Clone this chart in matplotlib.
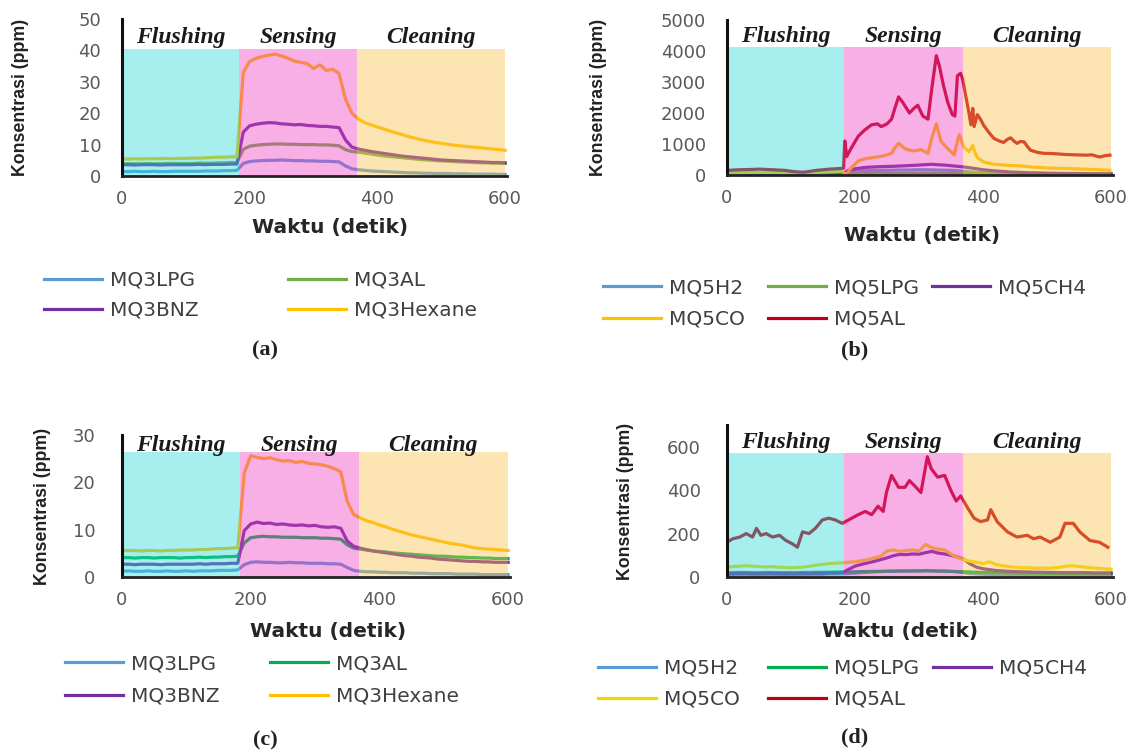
import matplotlib
matplotlib.use("Agg")
import matplotlib.pyplot as plt

W, H = 1145, 755

# time grid (detik) used by the smoother series
t10 = list(range(0, 601, 10))

# ---- panel (a) : MQ3, ppm
a_lpg = [1.4, 1.4, 1.5, 1.4, 1.4, 1.5, 1.4, 1.4, 1.5, 1.5,
         1.5, 1.5, 1.5, 1.6, 1.6, 1.6, 1.7, 1.7, 1.8, 4.0,
         4.6, 4.8, 4.9, 5.0, 5.0, 5.1, 5.0, 4.9, 4.9, 4.8,
         4.8, 4.7, 4.7, 4.6, 4.5, 3.2, 2.3, 2.0, 1.8, 1.6,
         1.5, 1.4, 1.3, 1.2, 1.1, 1.0, 1.0, 0.9, 0.9, 0.8,
         0.8, 0.8, 0.7, 0.7, 0.7, 0.6, 0.6, 0.6, 0.6, 0.5, 0.5]
a_al = [3.9, 3.9, 3.9, 3.9, 4.0, 3.9, 3.9, 4.0, 4.0, 4.0,
        4.0, 4.0, 4.1, 4.1, 4.1, 4.2, 4.2, 4.3, 4.3, 8.5,
        9.5, 9.8, 10.0, 10.1, 10.2, 10.2, 10.1, 10.1, 10.0, 10.0,
        10.0, 9.9, 9.9, 9.8, 9.6, 8.4, 7.8, 7.6, 7.3, 7.0,
        6.7, 6.4, 6.2, 6.0, 5.8, 5.6, 5.4, 5.2, 5.1, 4.9,
        4.8, 4.7, 4.6, 4.5, 4.4, 4.3, 4.2, 4.2, 4.1, 4.1, 4.0]
a_bnz = [3.6, 3.6, 3.5, 3.6, 3.6, 3.6, 3.5, 3.6, 3.6, 3.6,
         3.6, 3.6, 3.7, 3.6, 3.7, 3.7, 3.7, 3.8, 3.8, 14.0,
         16.0, 16.5, 16.8, 17.0, 16.9, 16.6, 16.5, 16.3, 16.4, 16.1,
         16.0, 15.8, 15.8, 15.6, 15.4, 11.5, 9.2, 8.6, 8.2, 7.8,
         7.5, 7.2, 6.9, 6.6, 6.3, 6.1, 5.9, 5.7, 5.5, 5.3,
         5.1, 5.0, 4.9, 4.8, 4.7, 4.6, 4.5, 4.4, 4.3, 4.3, 4.2]
a_hex = [5.4, 5.4, 5.5, 5.4, 5.5, 5.5, 5.5, 5.6, 5.5, 5.6,
         5.6, 5.7, 5.7, 5.8, 5.9, 6.0, 6.0, 6.1, 6.1, 33.0,
         36.5, 37.5, 38.0, 38.5, 38.8, 38.2, 37.5, 36.6, 36.2, 35.8,
         34.2, 35.4, 33.6, 34.0, 32.6, 24.5, 20.0, 18.2, 17.0, 16.3,
         15.6, 15.0, 14.3, 13.7, 13.1, 12.5, 12.0, 11.5, 11.1, 10.7,
         10.4, 10.1, 9.8, 9.6, 9.4, 9.2, 9.0, 8.8, 8.6, 8.4, 8.2]

# ---- panel (b) : MQ5, ppm
b_h2 = [20, 20, 20, 22, 22, 20, 20, 20, 22, 22,
        22, 22, 24, 24, 24, 25, 25, 26, 26, 90,
        120, 135, 140, 145, 150, 150, 155, 160, 160, 165,
        170, 170, 165, 160, 155, 150, 140, 120, 100, 85,
        75, 68, 62, 56, 52, 48, 45, 42, 40, 38,
        36, 34, 32, 31, 30, 29, 28, 27, 26, 25, 25]
b_lpg = [60, 62, 64, 66, 66, 64, 62, 60, 58, 56,
         54, 52, 52, 54, 56, 60, 64, 68, 70, 40,
         40, 42, 44, 46, 48, 50, 52, 54, 56, 58,
         60, 60, 60, 58, 56, 54, 52, 50, 48, 46,
         44, 42, 40, 38, 36, 35, 34, 33, 32, 31,
         30, 30, 29, 29, 28, 28, 27, 27, 26, 26, 26]
b_ch4 = [30, 30, 32, 32, 30, 30, 32, 32, 30, 30,
         30, 30, 32, 32, 34, 34, 36, 36, 38, 150,
         200, 230, 250, 260, 270, 275, 280, 290, 300, 310,
         320, 335, 345, 330, 320, 300, 280, 260, 230, 200,
         170, 150, 130, 115, 100, 90, 82, 75, 70, 65,
         60, 57, 54, 51, 48, 46, 44, 42, 40, 38, 36]
b_co_t = [0, 30, 60, 90, 120, 150, 180, 186, 195, 205, 215, 231, 245, 257,
          263, 268, 278, 285, 293, 303, 314, 320, 327, 334, 340, 345, 355,
          360, 363, 370, 378, 384, 388, 391, 401, 415, 427, 440, 453, 466,
          479, 490, 505, 530, 556, 580, 598]
b_co = [60, 70, 80, 70, 60, 90, 120, 20, 250, 450, 520, 570, 620, 700,
        900, 1020, 850, 800, 780, 820, 700, 1200, 1650, 1100, 950, 850, 650,
        1100, 1300, 900, 750, 950, 700, 560, 420, 350, 330, 310, 300, 280,
        250, 240, 220, 210, 190, 170, 150]
b_al_t = [0, 10, 20, 30, 40, 50, 60, 70, 80, 90, 100, 110, 120, 130, 140,
          150, 160, 170, 182, 184, 187, 195, 205, 215, 226, 235, 241, 250,
          257, 263, 268, 275, 285, 292, 298, 306, 314, 320, 327, 332, 338,
          345, 352, 356, 360, 365, 368, 373, 378, 381, 384, 386, 391, 396,
          401, 410, 417, 425, 432, 438, 443, 448, 453, 458, 464, 470, 474,
          485, 494, 510, 530, 545, 561, 570, 582, 590, 598]
b_al = [150, 160, 170, 175, 180, 190, 180, 170, 160, 150, 120, 100, 90, 120,
        150, 170, 190, 200, 220, 1100, 600, 900, 1250, 1450, 1620, 1650, 1560,
        1650, 1800, 2200, 2520, 2330, 2000, 2150, 2250, 1900, 1800, 2800, 3850,
        3500, 2900, 2330, 1950, 1900, 3200, 3280, 3100, 2550, 2000, 1620, 2150,
        1560, 1950, 1800, 1600, 1350, 1180, 1100, 1050, 1150, 1200, 1100, 1020,
        1080, 1070, 900, 800, 730, 700, 690, 660, 650, 640, 650, 580, 620, 640]

# ---- panel (c) : MQ3, ppm
c_lpg = [1.2, 1.3, 1.2, 1.2, 1.3, 1.2, 1.2, 1.3, 1.2, 1.2,
         1.3, 1.2, 1.3, 1.3, 1.3, 1.4, 1.4, 1.4, 1.5, 2.6,
         3.1, 3.2, 3.1, 3.1, 3.0, 3.0, 3.1, 3.0, 3.0, 2.9,
         2.9, 2.9, 2.8, 2.8, 2.7, 2.0, 1.4, 1.2, 1.1, 1.1,
         1.0, 1.0, 0.9, 0.9, 0.9, 0.8, 0.8, 0.8, 0.7, 0.7,
         0.7, 0.7, 0.6, 0.6, 0.6, 0.6, 0.5, 0.5, 0.5, 0.5, 0.5]
c_al = [4.1, 4.1, 4.0, 4.1, 4.1, 4.0, 4.1, 4.1, 4.1, 4.0,
        4.1, 4.1, 4.2, 4.1, 4.2, 4.2, 4.3, 4.3, 4.4, 7.2,
        8.3, 8.5, 8.6, 8.5, 8.5, 8.4, 8.4, 8.4, 8.3, 8.3,
        8.3, 8.2, 8.2, 8.1, 8.0, 6.8, 6.1, 5.9, 5.7, 5.5,
        5.4, 5.3, 5.1, 5.0, 4.9, 4.8, 4.7, 4.6, 4.5, 4.4,
        4.4, 4.3, 4.2, 4.2, 4.1, 4.1, 4.0, 4.0, 3.9, 3.9, 3.9]
c_bnz = [2.7, 2.7, 2.6, 2.7, 2.7, 2.7, 2.6, 2.7, 2.7, 2.7,
         2.7, 2.7, 2.8, 2.7, 2.8, 2.8, 2.8, 2.9, 2.9, 9.8,
         11.2, 11.6, 11.3, 11.4, 11.1, 11.2, 11.0, 10.9, 11.0, 10.8,
         10.9, 10.6, 10.5, 10.6, 10.3, 7.6, 6.5, 6.1, 5.8, 5.5,
         5.3, 5.1, 4.9, 4.7, 4.5, 4.4, 4.2, 4.1, 4.0, 3.8,
         3.7, 3.6, 3.5, 3.4, 3.3, 3.3, 3.2, 3.2, 3.1, 3.1, 3.1]
c_hex = [5.6, 5.6, 5.6, 5.5, 5.6, 5.6, 5.5, 5.6, 5.6, 5.7,
         5.7, 5.7, 5.8, 5.8, 5.9, 6.0, 6.0, 6.1, 6.2, 22.0,
         25.6, 25.3, 25.0, 25.2, 24.8, 24.5, 24.6, 24.2, 24.4, 24.0,
         23.9, 23.7, 23.4, 22.9, 22.2, 16.0, 13.2, 12.5, 11.9, 11.5,
         11.0, 10.6, 10.1, 9.7, 9.3, 8.9, 8.6, 8.3, 8.0, 7.7,
         7.4, 7.1, 6.9, 6.7, 6.4, 6.1, 6.0, 5.9, 5.8, 5.7, 5.6]

# ---- panel (d) : MQ5, ppm
d_h2 = [10, 10, 12, 12, 10, 10, 12, 12, 10, 10,
        10, 10, 12, 12, 12, 12, 14, 14, 14, 16,
        18, 20, 22, 24, 25, 26, 26, 27, 27, 28,
        28, 30, 29, 28, 27, 26, 24, 20, 16, 14,
        13, 12, 12, 11, 11, 10, 10, 10, 10, 10,
        10, 10, 10, 10, 10, 10, 10, 10, 10, 10, 10]
d_lpg = [20, 20, 21, 21, 20, 20, 21, 21, 20, 20,
         20, 20, 21, 21, 22, 22, 22, 23, 23, 24,
         24, 25, 25, 26, 26, 27, 27, 28, 28, 28,
         28, 28, 28, 27, 27, 26, 25, 24, 23, 22,
         21, 21, 20, 20, 19, 19, 18, 18, 18, 17,
         17, 17, 17, 16, 16, 16, 16, 15, 15, 15, 15]
d_ch4 = [15, 15, 16, 16, 15, 15, 16, 16, 15, 15,
         15, 15, 16, 16, 17, 17, 18, 18, 20, 35,
         50, 58, 65, 72, 80, 88, 98, 104, 103, 106,
         105, 112, 118, 110, 106, 100, 92, 82, 60, 45,
         38, 34, 30, 28, 26, 25, 24, 23, 22, 22,
         21, 21, 20, 20, 20, 20, 20, 19, 19, 19, 19]
d_co = [45, 48, 50, 52, 50, 48, 46, 48, 45, 44,
        42, 44, 46, 50, 55, 58, 62, 64, 65, 68,
        70, 75, 80, 88, 95, 120, 125, 118, 122, 125,
        120, 150, 135, 128, 125, 105, 90, 80, 72, 68,
        62, 70, 58, 52, 48, 45, 42, 43, 40, 41,
        40, 42, 45, 50, 52, 48, 45, 42, 40, 38, 36]
d_al_t = [0, 9, 20, 30, 40, 46, 53, 61, 71, 82, 92, 102, 110, 118, 128, 138,
          149, 159, 169, 180, 185, 195, 205, 216, 226, 236, 244, 249, 257,
          268, 278, 285, 293, 303, 313, 319, 329, 340, 350, 358, 365, 376,
          386, 396, 407, 412, 422, 438, 453, 469, 479, 489, 505, 520, 528,
          541, 551, 567, 582, 595]
d_al = [160, 176, 184, 200, 184, 224, 192, 200, 184, 192, 168, 153, 137, 208,
        200, 224, 263, 271, 263, 247, 255, 271, 287, 302, 287, 326, 302, 389,
        468, 413, 413, 444, 420, 389, 554, 499, 460, 468, 397, 350, 373, 318,
        271, 255, 263, 310, 255, 208, 184, 192, 176, 184, 160, 184, 247, 247,
        208, 168, 160, 137]

phase_names = ["Flushing", "Sensing", "Cleaning"]
phase_edges = [0, 183, 368, 600]
phase_colors = ["#25d9d9", "#ed39c0", "#fac043"]

BLUE, GREEN, EMERALD, PURPLE = "#5b9bd5", "#70ad47", "#00b050", "#7030a0"
GOLD, YELLOW, RED = "#ffc000", "#f0d800", "#c00018"

panels = [
    dict(box=(122, 507, 19, 176), ymax=50, yticks=range(0, 51, 10), band=40.5,
         series=[(t10, a_lpg, "MQ3LPG", BLUE), (t10, a_al, "MQ3AL", GREEN),
                 (t10, a_bnz, "MQ3BNZ", PURPLE), (t10, a_hex, "MQ3Hexane", GOLD)],
         cols=[(44, ["MQ3LPG", "MQ3BNZ"]), (288, ["MQ3AL", "MQ3Hexane"])],
         leg_y=(280, 311), ylab_x=29, xlab=(330, 228), cap=("(a)", 265, 350), ypad=15),
    dict(box=(727, 1113, 20, 175), ymax=5000, yticks=range(0, 5001, 1000), band=4130,
         series=[(t10, b_h2, "MQ5H2", BLUE), (t10, b_lpg, "MQ5LPG", GREEN),
                 (t10, b_ch4, "MQ5CH4", PURPLE), (b_co_t, b_co, "MQ5CO", GOLD),
                 (b_al_t, b_al, "MQ5AL", RED)],
         cols=[(603, ["MQ5H2", "MQ5CO"]), (768, ["MQ5LPG", "MQ5AL"]), (932, ["MQ5CH4"])],
         leg_y=(287, 320), ylab_x=607, xlab=(922, 235), cap=("(b)", 855, 350), ypad=15),
    dict(box=(122, 510, 435, 577), ymax=30, yticks=range(0, 31, 10), band=26.5,
         series=[(t10, c_lpg, "MQ3LPG", BLUE), (t10, c_al, "MQ3AL", EMERALD),
                 (t10, c_bnz, "MQ3BNZ", PURPLE), (t10, c_hex, "MQ3Hexane", GOLD)],
         cols=[(65, ["MQ3LPG", "MQ3BNZ"]), (270, ["MQ3AL", "MQ3Hexane"])],
         leg_y=(663, 697), ylab_x=51, xlab=(328, 632), cap=("(c)", 265, 740), ypad=19),
    dict(box=(727, 1113, 425, 577), ymax=700, yticks=range(0, 601, 200), band=572,
         series=[(t10, d_h2, "MQ5H2", BLUE), (t10, d_lpg, "MQ5LPG", EMERALD),
                 (t10, d_ch4, "MQ5CH4", PURPLE), (t10, d_co, "MQ5CO", YELLOW),
                 (d_al_t, d_al, "MQ5AL", RED)],
         cols=[(598, ["MQ5H2", "MQ5CO"]), (768, ["MQ5LPG", "MQ5AL"]), (933, ["MQ5CH4"])],
         leg_y=(668, 700), ylab_x=634, xlab=(900, 632), cap=("(d)", 855, 737), ypad=19),
]

fig = plt.figure(figsize=(W / 100, H / 100), dpi=100)

for p in panels:
    x0, x1, ytop, ybot = p["box"]
    ax = fig.add_axes([x0 / W, 1 - ybot / H, (x1 - x0) / W, (ybot - ytop) / H])
    handles = {}
    for t, v, name, col in p["series"]:
        ln, = ax.plot(t, v, color=col, lw=2.3, label=name, zorder=2,
                      solid_joinstyle="round")
        handles[name] = ln

    # the shaded phases sit over the lines, as in the original figure
    for i in range(3):
        ax.fill_between([phase_edges[i], phase_edges[i + 1]], 0, p["band"],
                        color=phase_colors[i], alpha=0.4, lw=0, zorder=3)
        ax.text((phase_edges[i] + phase_edges[i + 1]) / 2, p["band"] + 0.37 * (p["ymax"] - p["band"]),
                phase_names[i], ha="center", va="center", fontsize=17,
                family="Liberation Serif", style="italic", weight="bold", color="#1a1a1a")

    ax.set_xlim(0, 603)
    ax.set_ylim(0, p["ymax"])
    ax.set_xticks([0, 200, 400, 600])
    ax.set_yticks(list(p["yticks"]))
    ax.tick_params(length=0, labelsize=13, labelcolor="#595959")
    ax.tick_params(axis="x", pad=10)
    ax.tick_params(axis="y", pad=p["ypad"])
    for s in ["top", "right"]:
        ax.spines[s].set_visible(False)
    ax.spines["left"].set_linewidth(2.2)
    ax.spines["left"].set_color("#111111")
    ax.spines["bottom"].set_linewidth(2.0)
    ax.spines["bottom"].set_color("#222222")
    ax.spines["left"].set_zorder(5)
    ax.spines["bottom"].set_zorder(5)

    ax.set_ylabel("Konsentrasi (ppm)", family="Liberation Sans",
                  weight="bold", fontsize=12.8, color="#222222")
    ax.yaxis.set_label_coords((p["ylab_x"] - x0) / (x1 - x0), 0.5)

    fig.text(p["xlab"][0] / W, 1 - p["xlab"][1] / H, "Waktu (detik)", ha="center",
             va="center", fontsize=14.5, weight="bold", color="#262626")

    for cx, names in p["cols"]:
        ytop_leg = p["leg_y"][0] - 9
        fig.legend([handles[n] for n in names], names, loc="upper left",
                   bbox_to_anchor=(cx / W, 1 - ytop_leg / H), frameon=False,
                   fontsize=14.5, labelcolor="#404040", handlelength=2.9,
                   handletextpad=0.4, borderpad=0, borderaxespad=0,
                   labelspacing=(p["leg_y"][1] - p["leg_y"][0]) / 20.1 - 1.0)

    txt, cx, cy = p["cap"]
    fig.text(cx / W, 1 - cy / H, txt, ha="center", va="center", fontsize=16,
             family="Liberation Serif", weight="bold", color="#222222")

fig.savefig("out.png", dpi=100)
